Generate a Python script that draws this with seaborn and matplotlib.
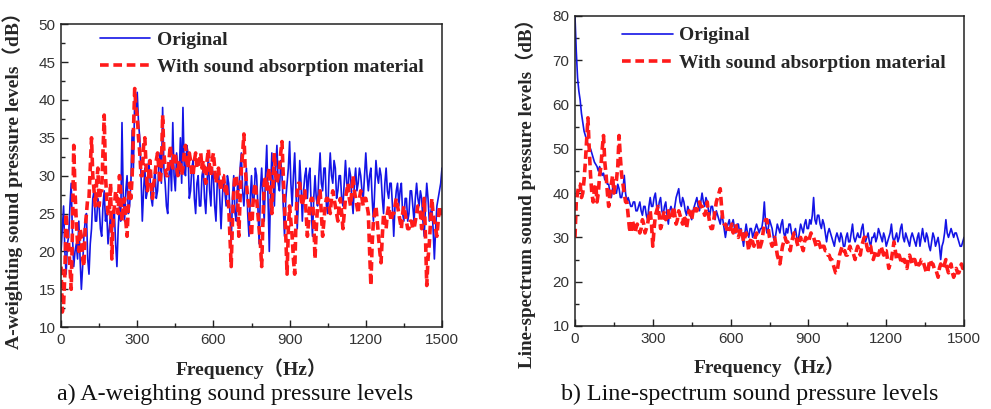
import numpy as np
import pandas as pd
import matplotlib
matplotlib.use("Agg")
import matplotlib.pyplot as plt
import seaborn as sns
from matplotlib.ticker import MultipleLocator

# ---------------- data (5 Hz grid) ----------------
freq = list(range(0, 1505, 5))

a_original = [
    20, 23, 26, 20, 17, 21, 22, 26, 29, 22, 18, 20, 21, 19, 24, 19, 15, 18, 22, 24,
    25, 19, 17, 21, 23, 27, 28, 24, 24, 27, 26, 23, 22, 26, 28, 24, 25, 21, 23, 25,
    22, 24, 25, 21, 18, 23, 26, 24, 37, 27, 24, 28, 30, 25, 26, 29, 36, 31, 40, 38,
    41, 37, 35, 30, 24, 28, 31, 27, 28, 32, 30, 27, 26, 29, 31, 27, 28, 31, 33, 29,
    39, 31, 29, 26, 25, 30, 32, 28, 37, 30, 28, 33, 31, 30, 35, 29, 39, 31, 30, 34,
    33, 27, 28, 31, 32, 27, 25, 29, 30, 26, 26, 30, 31, 27, 25, 29, 33, 28, 26, 31,
    30, 26, 24, 29, 31, 27, 23, 27, 30, 28, 26, 30, 29, 25, 21, 27, 30, 25, 24, 29,
    28, 31, 33, 28, 26, 29, 31, 25, 22, 27, 30, 26, 27, 31, 30, 26, 21, 28, 31, 27,
    24, 30, 34, 27, 20, 28, 33, 29, 26, 31, 34, 29, 28, 32, 30, 26, 22, 27, 29, 31,
    34.5, 29, 26, 30, 33, 28, 23, 27, 32, 29, 24, 28, 30, 31, 27, 30, 31, 26, 22, 27,
    30, 27, 26, 30, 33, 29, 28, 31, 31, 26, 25, 30, 33, 30, 29, 32, 31, 27, 28, 30,
    30, 27, 26, 29, 32, 29, 28, 31, 30, 27, 25, 29, 31, 28, 29, 31, 30, 28, 27, 30,
    33, 30, 28, 30, 31, 27, 24, 28, 32, 30, 29, 31, 30, 27, 25, 29, 31, 28, 27, 29,
    29, 26, 22, 26, 28, 29, 26, 28, 29, 25, 24, 27, 27, 24, 25, 28, 28, 26, 24, 27,
    29, 27, 26, 28, 27, 24, 22, 26, 29, 27, 24, 25, 26, 23, 19, 23, 26, 27, 28, 29,
    31,
]
a_absorb = [
    18, 12, 13, 17, 25, 22, 21, 18, 15, 23, 34, 28, 24, 21, 20, 23, 22, 19, 18, 23,
    25, 27, 27, 31, 35, 30, 28, 26, 29, 31, 26, 28, 28, 33, 38, 30, 27, 25, 25, 29,
    19, 24, 26, 28, 27, 25, 30, 28, 24, 26, 27, 24, 22, 26, 29, 27, 30, 36, 41.5, 39,
    38, 35, 33, 30, 30, 34, 35, 31, 28, 30, 32, 29, 27, 29, 30, 32, 33, 31, 29, 31,
    38, 33, 31, 30, 30, 32, 34, 32, 31, 33, 33, 31, 30, 32, 32, 30, 31, 33, 34, 32,
    31, 33, 32, 30, 30, 32, 33, 31, 31, 32, 33, 31, 32, 30, 29, 32, 33.5, 31, 30, 32,
    33, 31, 29, 30, 31, 29, 28, 30, 30, 28, 29, 27, 26, 22, 18, 24, 28, 30, 30, 28,
    22, 27, 31, 33, 35.5, 31, 29, 27, 26, 24, 22, 26, 28, 29, 27, 25, 23, 21, 18, 24,
    29, 30, 28, 30, 31, 28, 25, 29, 33, 30, 29, 30, 31, 33, 34.5, 30, 26, 22, 17, 23,
    26, 24, 22, 19, 17, 24, 28, 29, 29, 27, 26, 27, 28, 25, 22, 24, 26, 27, 27, 24,
    19, 23, 26, 27, 28, 25, 22, 24, 26, 27, 27, 26, 25, 27, 28, 27, 26, 25, 24, 26,
    27, 25, 23, 25, 27, 28, 29, 27, 26, 28, 30, 28, 27, 26, 25, 27, 28, 27, 26, 27,
    27, 26, 25, 20, 15.5, 21, 24, 25, 26, 24, 22, 20, 18.5, 22, 25, 24, 23, 25, 26, 25,
    24, 25, 25, 26, 27, 26, 25, 24, 23, 25, 26, 25, 24, 23, 23, 24, 24, 23, 23, 24,
    25, 26, 26, 25, 23, 25, 27, 22, 15.5, 19, 21, 24, 27, 25, 24, 23, 22, 24, 26, 25,
    25,
]
b_original = [
    80, 72, 66, 63, 61, 58, 56, 54, 53, 52, 51, 50, 50, 49, 48, 47, 46.5, 46, 45, 46,
    45, 44, 44.5, 43, 43, 42, 42, 40, 39, 41, 42, 40, 40, 42, 41, 39, 39, 41, 44, 40,
    38, 39, 38, 37, 37, 38, 38, 36, 36, 37, 38, 36, 35, 37, 37, 35, 34, 37, 39, 37,
    37, 39, 40, 37, 36, 38, 39, 36, 35, 37, 38, 35, 33, 36, 37, 36, 35, 37, 39, 40,
    41, 38, 37, 39, 38, 36, 35, 37, 36, 35, 34, 36, 37, 38, 39, 37, 36, 38, 40, 38,
    37, 39, 38, 36, 35, 37, 37, 35, 34, 36, 35, 34, 33, 35, 34, 32, 30, 32, 33, 34,
    32, 33, 34, 32, 31, 33, 33, 31, 32, 30, 28, 31, 33, 31, 30, 32, 32, 30, 31, 32,
    33, 32, 31, 32, 32, 34, 38, 33, 31, 32, 34, 33, 32, 30, 29, 31, 33, 32, 31, 33,
    34, 31, 30, 32, 31, 33, 33, 31, 30, 31, 32, 30, 29, 31, 33, 32, 31, 33, 34, 32,
    32, 34, 33, 35, 39, 34, 33, 35, 35, 33, 32, 34, 33, 31, 29, 31, 32, 31, 30, 29,
    28, 30, 31, 30, 29, 31, 30, 28, 28, 30, 31, 29, 29, 31, 33, 30, 29, 30, 31, 30,
    30, 32, 33, 30, 29, 30, 31, 29, 28, 30, 30, 31, 29, 30, 32, 31, 30, 29, 31, 30,
    28, 29, 30, 31, 33, 30, 29, 30, 31, 29, 30, 32, 33, 30, 29, 31, 30, 29, 28, 30,
    31, 30, 29, 28, 30, 31, 28, 30, 32, 30, 29, 31, 30, 28, 27, 29, 31, 30, 28, 29,
    30, 28, 25, 28, 29, 31, 34, 31, 30, 31, 32, 31, 30, 31, 31, 30, 29, 28, 28, 29,
    30,
]
b_absorb = [
    30, 38, 40, 42, 42, 39, 40, 43, 47, 52, 57, 50, 44, 40, 38, 41, 42, 38, 40, 44,
    46, 50, 53, 47, 44, 40, 37, 40, 42, 44, 40, 42, 43, 46, 53, 48, 44, 42, 40, 38,
    38, 35, 32, 31, 34, 33, 31, 32, 33, 32, 31, 32, 34, 33, 31, 32, 33, 35, 36, 33,
    28, 32, 35, 36, 37, 35, 32, 33, 35, 36, 34, 35, 36, 34, 34, 35, 37, 35, 33, 34,
    36, 35, 34, 33, 35, 34, 32, 34, 36, 35, 34, 36, 37, 36, 36, 37, 38, 37, 37, 36,
    35, 36, 38, 35, 33, 32, 32, 34, 36, 38, 39, 40, 41, 37, 34, 33, 33, 32, 31, 32,
    32, 33, 31, 32, 33, 31, 30, 31, 32, 31, 29, 30, 31, 29, 27, 29, 30, 29, 28, 30,
    31, 29, 27, 28, 29, 31, 33, 34, 34, 32, 30, 29, 28, 29, 30, 28, 26, 25, 24, 26,
    28, 29, 30, 29, 29, 28, 27, 29, 30, 31, 31, 29, 28, 29, 30, 28, 27, 29, 30, 29,
    29, 30, 31, 30, 30, 29, 28, 29, 29, 28, 27, 28, 28, 27, 27, 26, 26, 25, 25, 24,
    23, 22, 22, 24, 26, 27, 28, 27, 27, 26, 26, 27, 28, 27, 27, 26, 25, 27, 28, 27,
    26, 28, 29, 30, 30, 28, 27, 28, 28, 26, 25, 26, 27, 26, 26, 27, 28, 27, 26, 27,
    27, 25, 23, 24, 25, 27, 29, 27, 25, 26, 26, 25, 24, 25, 25, 24, 23, 25, 26, 25,
    24, 25, 25, 24, 23, 24, 24, 25, 25, 24, 23, 22, 22, 24, 25, 24, 24, 23, 23, 22,
    21, 23, 24, 23, 23, 24, 25, 23, 22, 23, 24, 22, 21, 22, 23, 22, 22, 23, 24, 23,
    23,
]

series_names = ["Original", "With sound absorption material"]
x_ticks = [0, 300, 600, 900, 1200, 1500]
ylabel_a = "A-weighting sound pressure levels（dB）"
ylabel_b = "Line-spectrum sound pressure levels（dB）"
xlabel = "Frequency（Hz）"
caption_a = "a) A-weighting sound pressure levels"
caption_b = "b) Line-spectrum sound pressure levels"

# ---------------- style ----------------
sns.set_theme(style="white")
plt.rcParams["font.family"] = ["Liberation Sans", "DejaVu Sans"]
serif = ["Liberation Serif", "Noto Sans CJK SC", "DejaVu Serif"]

BLUE = "#1414e6"
RED = "#ff1a1a"

fig = plt.figure(figsize=(9.91, 4.09), dpi=100)
ax_a = fig.add_axes([0.0616, 0.200, 0.3844, 0.741])
ax_b = fig.add_axes([0.5802, 0.203, 0.3926, 0.758])


def draw(ax, orig, absb, ylim, ymajor, yminor, ylabel, leg_anchor,
         ylab_coords, ylab_size):
    df = pd.DataFrame({"f": freq, "orig": orig, "abs": absb})
    sns.lineplot(data=df, x="f", y="orig", ax=ax, color=BLUE, lw=1.2,
                 estimator=None, sort=False, label=series_names[0])
    sns.lineplot(data=df, x="f", y="abs", ax=ax, color=RED, lw=2.6,
                 linestyle=(0, (2.4, 1.3)), estimator=None, sort=False,
                 label=series_names[1])
    ax.set_xlim(0, 1500)
    ax.set_ylim(*ylim)
    ax.set_xticks(x_ticks)
    ax.xaxis.set_minor_locator(MultipleLocator(150))
    ax.yaxis.set_major_locator(MultipleLocator(ymajor))
    ax.yaxis.set_minor_locator(MultipleLocator(yminor))
    ax.tick_params(axis="both", which="both", direction="in",
                   bottom=True, left=True, top=False, right=False,
                   colors="#222222")
    ax.tick_params(which="major", length=5, width=1, labelsize=11, pad=4)
    ax.tick_params(which="minor", length=3, width=1)
    for lab in ax.get_xticklabels() + ax.get_yticklabels():
        lab.set_color("#333333")
    for s in ax.spines.values():
        s.set_color("#222222")
        s.set_linewidth(1.1)
    ax.set_xlabel(xlabel, family=serif, fontweight="bold", fontsize=14,
                  labelpad=8)
    ax.set_ylabel(ylabel, family=serif, fontweight="bold", fontsize=ylab_size)
    ax.yaxis.set_label_coords(*ylab_coords)
    leg = ax.legend(loc="upper left", bbox_to_anchor=leg_anchor,
                    frameon=False, borderaxespad=0, borderpad=0,
                    handlelength=2.6, handletextpad=0.35,
                    labelspacing=0.5,
                    prop={"family": serif, "weight": "bold", "size": 14})
    return leg


draw(ax_a, a_original, a_absorb, (10, 50), 5, 2.5, ylabel_a,
     (0.102, 0.977), (-0.100, 0.5), 14)
draw(ax_b, b_original, b_absorb, (10, 80), 10, 5, ylabel_b,
     (0.121, 0.965), (-0.100, 0.442), 13.8)

fig.text(0.237, 0.035, caption_a, ha="center", va="center",
         family=serif, fontsize=17.3, color="#111111")
fig.text(0.757, 0.035, caption_b, ha="center", va="center",
         family=serif, fontsize=17.3, color="#111111")

fig.savefig("out.png", dpi=100)
